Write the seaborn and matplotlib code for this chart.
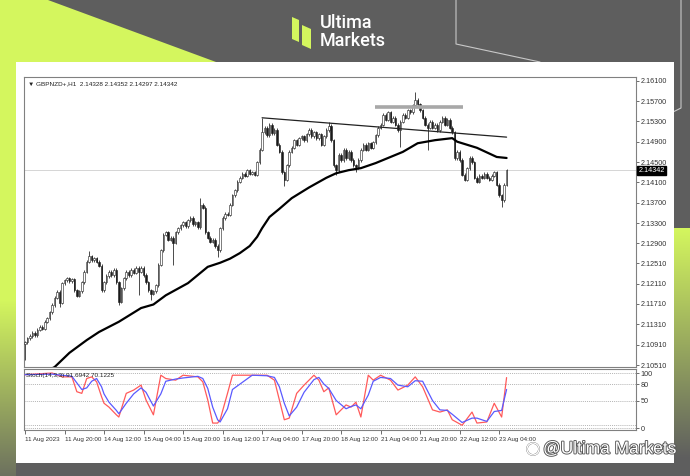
import numpy as np
import pandas as pd
import seaborn as sns
import matplotlib.pyplot as plt
import matplotlib.transforms as mtransforms
import matplotlib.patheffects as pe
from matplotlib.patches import Polygon, Rectangle, Circle

# GBPNZD H1 closes, 11 Aug 04:00 .. 23 Aug 07:00
first_open = 2.1093
close = np.array([
    2.1096, 2.1104, 2.1108, 2.1114, 2.1110, 2.1120, 2.1126, 2.1122, 2.1136, 2.1143,
    2.1155, 2.1169, 2.1183, 2.1195, 2.1173, 2.1212, 2.1218, 2.1222, 2.1216, 2.1220,
    2.1198, 2.1187, 2.1196, 2.1214, 2.1234, 2.1254, 2.1265, 2.1257, 2.1261, 2.1254,
    2.1246, 2.1198, 2.1214, 2.1226, 2.1234, 2.1228, 2.1238, 2.1214, 2.1175, 2.1202,
    2.1222, 2.1234, 2.1228, 2.1238, 2.1232, 2.1242, 2.1234, 2.1242, 2.1228, 2.1214,
    2.1198, 2.1191, 2.1196, 2.1208, 2.1248, 2.1277, 2.1307, 2.1312, 2.1297, 2.1301,
    2.1291, 2.1312, 2.1320, 2.1326, 2.1332, 2.1324, 2.1336, 2.1340, 2.1328, 2.1332,
    2.1322, 2.1366, 2.1360, 2.1312, 2.1301, 2.1293, 2.1297, 2.1285, 2.1277, 2.1320,
    2.1340, 2.1348, 2.1346, 2.1366, 2.1385, 2.1395, 2.1411, 2.1419, 2.1427, 2.1423,
    2.1434, 2.1427, 2.1430, 2.1425, 2.1450, 2.1474, 2.1509, 2.1517, 2.1503, 2.1523,
    2.1507, 2.1513, 2.1484, 2.1470, 2.1430, 2.1415, 2.1444, 2.1470, 2.1478, 2.1493,
    2.1484, 2.1497, 2.1501, 2.1493, 2.1505, 2.1513, 2.1501, 2.1509, 2.1497, 2.1505,
    2.1484, 2.1501, 2.1513, 2.1521, 2.1493, 2.1444, 2.1434, 2.1464, 2.1454, 2.1474,
    2.1458, 2.1470, 2.1454, 2.1444, 2.1440, 2.1454, 2.1474, 2.1484, 2.1474, 2.1487,
    2.1478, 2.1489, 2.1503, 2.1517, 2.1523, 2.1543, 2.1533, 2.1548, 2.1529, 2.1537,
    2.1523, 2.1513, 2.1529, 2.1543, 2.1537, 2.1552, 2.1548, 2.1562, 2.1572, 2.1564,
    2.1552, 2.1537, 2.1523, 2.1517, 2.1529, 2.1517, 2.1523, 2.1513, 2.1529, 2.1537,
    2.1523, 2.1533, 2.1517, 2.1509, 2.1458, 2.1470, 2.1454, 2.1425, 2.1415, 2.1438,
    2.1458, 2.1450, 2.1419, 2.1411, 2.1423, 2.1419, 2.1427, 2.1419, 2.1415, 2.1423,
    2.1430, 2.1405, 2.1385, 2.1375, 2.1405, 2.14342,
])

# long wicks
spike_idx = [0, 14, 26, 38, 46, 51, 60, 71, 78, 96, 105, 123, 126, 134, 152, 158, 163, 193]
spike_price = [2.1061, 2.1165, 2.1275, 2.1169, 2.1189, 2.1179, 2.1248, 2.1379, 2.1263,
               2.1537, 2.1403, 2.1529, 2.1425, 2.1430, 2.1480, 2.1588, 2.1474, 2.1362]

# moving average (black line)
ma_idx = [8, 12, 18, 25, 30, 38, 47, 52, 57, 63, 66, 70, 74, 79, 83, 87, 91, 94, 96, 99,
          103, 108, 115, 122, 126, 131, 136, 142, 148, 153, 159, 166, 173, 175, 179, 183,
          187, 191, 195]
ma_val = [2.1037, 2.1047, 2.1075, 2.1100, 2.1116, 2.1136, 2.1163, 2.1170, 2.1188, 2.1204,
          2.1212, 2.1228, 2.1244, 2.1252, 2.1260, 2.1271, 2.1285, 2.1303, 2.1320, 2.1342,
          2.1358, 2.1379, 2.1400, 2.1419, 2.1428, 2.1434, 2.1438, 2.1448, 2.1460, 2.1470,
          2.1487, 2.1493, 2.1497, 2.1490, 2.1484, 2.1478, 2.1469, 2.1460, 2.1458]

trend_idx = [96, 195]
trend_price = [2.1537, 2.1499]
zone_idx = [141.7, 177.3]
zone_price = 2.1559
last_price = 2.14342

# stochastic
st_idx = [0, 11, 15, 19, 21, 23, 25, 27, 29, 31, 32, 34, 37, 38, 41, 44, 47, 49, 52, 55,
          57, 61, 64, 70, 72, 74, 76, 78, 79, 82, 84, 92, 98, 101, 103, 105, 107, 110, 113, 117,
          119, 121, 123, 126, 130, 132, 134, 136, 139, 141, 144, 148, 151, 155, 158, 161, 165, 168, 171, 173,
          177, 181, 183, 187, 190, 193, 195]
st_main = [97, 100, 93, 93, 66, 63, 90, 93, 84, 57, 45, 38, 24, 20, 63, 69, 78, 51, 24, 96,
           90, 87, 96, 93, 84, 51, 9, 9, 15, 63, 96, 96, 96, 87, 51, 15, 18, 63, 78, 96,
           87, 66, 73, 24, 42, 38, 47, 20, 96, 87, 96, 87, 69, 78, 93, 75, 33, 29, 33, 15,
           5, 29, 9, 11, 45, 20, 91.69]
st_signal = [97, 98, 96, 94, 82, 70, 73, 85, 90, 75, 62, 47, 32, 26, 45, 62, 73, 65, 40, 62,
             85, 89, 91, 94, 90, 72, 38, 15, 11, 35, 70, 96, 95, 92, 75, 45, 22, 38, 65, 88,
             92, 80, 72, 50, 35, 39, 42, 35, 60, 85, 92, 90, 78, 75, 86, 85, 50, 33, 32, 25,
             10, 18, 18, 12, 30, 32, 70.12]
st_levels = [0, 5, 50, 80, 100]

price_ticks = [2.16100, 2.15700, 2.15300, 2.14900, 2.14500, 2.14100, 2.13700, 2.13300,
               2.12900, 2.12510, 2.12110, 2.11710, 2.11310, 2.10910, 2.10510]
time_labels = ["11 Aug 2023", "11 Aug 20:00", "14 Aug 12:00", "15 Aug 04:00", "15 Aug 20:00",
               "16 Aug 12:00", "17 Aug 04:00", "17 Aug 20:00", "18 Aug 12:00", "21 Aug 04:00",
               "21 Aug 20:00", "22 Aug 12:00", "23 Aug 04:00"]

W, H = 690, 476
LIME = np.array([212, 246, 94]) / 255
GRAY = np.array([94, 94, 94]) / 255
CHART_FONT = ['Liberation Sans', 'DejaVu Sans']

sns.set_style("white")
plt.rcParams['font.family'] = ['DejaVu Sans']


def rect(x0, y0, x1, y1):
    return [x0 / W, 1 - y1 / H, (x1 - x0) / W, (y1 - y0) / H]


fig = plt.figure(figsize=(W / 100, H / 100), dpi=100, facecolor='#5e5e5e')

# background / branding
bg = fig.add_axes([0, 0, 1, 1])
bg.set_facecolor('#5e5e5e')
ys = np.arange(H)
t_r = np.clip((ys - 228) / 230, 0, 1)
col_r = np.where((ys < 228)[:, None], GRAY, LIME * (1 - t_r[:, None]) + GRAY * t_r[:, None])
bg.imshow(col_r[:, None, :], extent=[674, 690, H, 0], aspect='auto', zorder=0)
t_l = np.clip((ys - 300) / 200, 0, 1)
col_l = LIME * (1 - t_l[:, None]) + GRAY * t_l[:, None]
bg.imshow(col_l[:, None, :], extent=[0, 16, H, 0], aspect='auto', zorder=0)
bg.add_patch(Polygon([(0, 0), (48, 0), (216, 62), (16, 62), (0, 62)], closed=True,
                     facecolor=LIME, edgecolor='none', zorder=1))
bg.plot([456, 456, 540], [0, 44, 62], color='#c8c8c8', lw=0.8, zorder=2)
bg.plot([681, 681, 673], [0, 108, 112], color='#c8c8c8', lw=0.8, zorder=2)
bg.add_patch(Rectangle((16, 62), 658, 401, facecolor='white', edgecolor='none', zorder=3))
# logo
bg.add_patch(Polygon([(292, 17), (299, 20), (299, 42), (292, 39)], closed=True,
                     facecolor=LIME, edgecolor='none', zorder=4))
bg.add_patch(Polygon([(302, 25), (311, 29), (311, 49), (302, 45)], closed=True,
                     facecolor=LIME, edgecolor='none', zorder=4))
bg.text(320, 23, "Ultima", color='white', fontsize=13, family=['Roboto', 'DejaVu Sans'],
        weight='medium', va='center', ha='left', zorder=4)
bg.text(320, 41, "Markets", color='white', fontsize=13, family=['Roboto', 'DejaVu Sans'],
        weight='medium', va='center', ha='left', zorder=4)
bg.set_xlim(0, W)
bg.set_ylim(H, 0)
bg.axis('off')

# price window
ax = fig.add_axes(rect(24, 77, 636, 367))
ax.set_facecolor('white')
idx = np.arange(len(close))
opens = np.r_[first_open, close[:-1]]
top = np.maximum(opens, close)
bot = np.minimum(opens, close)
highs = top + 0.0003
lows = bot - 0.0003
for i, p in zip(spike_idx, spike_price):
    if p > top[i]:
        highs[i] = p
    else:
        lows[i] = p
ax.vlines(idx, lows, highs, color='#1a1a1a', lw=0.55, zorder=2)
body = np.maximum(top - bot, 0.00005)
bull = close >= opens
ax.bar(idx[bull], body[bull], bottom=bot[bull], width=0.62, color='white',
       edgecolor='#1a1a1a', lw=0.4, zorder=3)
ax.bar(idx[~bull], body[~bull], bottom=bot[~bull], width=0.62, color='#1a1a1a',
       edgecolor='#1a1a1a', lw=0.4, zorder=3)

ax.axhline(last_price, color='#cfcfcf', lw=0.6, zorder=1)
sns.lineplot(x=ma_idx, y=ma_val, color='black', lw=1.6, ax=ax, zorder=4)
sns.lineplot(x=trend_idx, y=trend_price, color='#222222', lw=0.9, ax=ax, zorder=4)
ax.plot(zone_idx, [zone_price, zone_price], color='#a8a8a8', lw=2.6,
        solid_capstyle='butt', zorder=4)

ax.set_xlim(-0.4, 247.4)
ax.set_ylim(2.10471, 2.16172)
ax.yaxis.tick_right()
ax.set_yticks(price_ticks)
ax.set_yticklabels([f"{p:.5f}" for p in price_ticks], family=CHART_FONT)
ax.tick_params(axis='y', length=2, width=0.5, pad=1.5, labelsize=5.2, colors='#333333',
               right=True, left=False)
ax.set_xticks([])
ax.set_xlabel('')
ax.set_ylabel('')
for s in ax.spines.values():
    s.set_color('#808080')
    s.set_linewidth(0.8)
ax.text(0.006, 0.985, "\u25BC GBPNZD+,H1  2.14328 2.14352 2.14297 2.14342",
        transform=ax.transAxes, fontsize=4.6, va='top', ha='left', color='#222222',
        family=['Liberation Sans', 'DejaVu Sans'])
blend = mtransforms.blended_transform_factory(ax.transAxes, ax.transData)
ax.text(1.004, last_price, f"{last_price:.5f}", transform=blend, fontsize=5.2, color='white',
        va='center', ha='left', zorder=6, family=CHART_FONT,
        bbox=dict(boxstyle='square,pad=0.15', facecolor='black', edgecolor='black'))

# stochastic window
sub = fig.add_axes(rect(24, 369, 636, 430))
sub.set_facecolor('white')
for lv in st_levels:
    sub.axhline(lv, color='#9a9a9a', lw=0.5, ls=(0, (1.5, 1.5)), zorder=1)
sns.lineplot(x=st_idx, y=st_main, color='#ff5a5a', lw=0.9, ax=sub, zorder=3)
sns.lineplot(x=st_idx, y=st_signal, color='#5a5aff', lw=0.9, ax=sub, zorder=3)
sub.set_xlim(-0.4, 247.4)
sub.set_ylim(-3.6, 107.3)
sub.yaxis.tick_right()
sub.set_yticks([0, 50, 80, 100])
sub.set_yticklabels(["0", "50", "80", "100"], family=CHART_FONT)
sub.tick_params(axis='y', length=2, width=0.5, pad=1.5, labelsize=5.2, colors='#333333',
                right=True, left=False)
sub.set_xticks(np.arange(0, 16 * len(time_labels), 16))
sub.set_xticklabels(time_labels, ha='left', family=CHART_FONT)
sub.tick_params(axis='x', length=3, width=0.5, pad=2, labelsize=4.5, colors='#333333',
                bottom=True)
sub.set_xlabel('')
sub.set_ylabel('')
for s in sub.spines.values():
    s.set_color('#808080')
    s.set_linewidth(0.8)
sub.text(0.003, 0.93, "Stoch(14,3,3) 91.6942 70.1225", transform=sub.transAxes,
         fontsize=4.6, va='top', ha='left', color='#222222', zorder=5, family=CHART_FONT)

# watermark
ov = fig.add_axes([0, 0, 1, 1])
ov.set_xlim(0, W)
ov.set_ylim(H, 0)
ov.axis('off')
stroke = [pe.withStroke(linewidth=1.3, foreground='#555555')]
ov.add_patch(Circle((533, 449), 6, facecolor='none', edgecolor='white', lw=1.0,
                    path_effects=stroke))
ov.text(543, 449, "@Ultima Markets", fontsize=12.5, color='white',
        family=['Liberation Sans', 'DejaVu Sans'], va='center', ha='left',
        path_effects=stroke)

fig.savefig("out.png", dpi=100, facecolor=fig.get_facecolor())
